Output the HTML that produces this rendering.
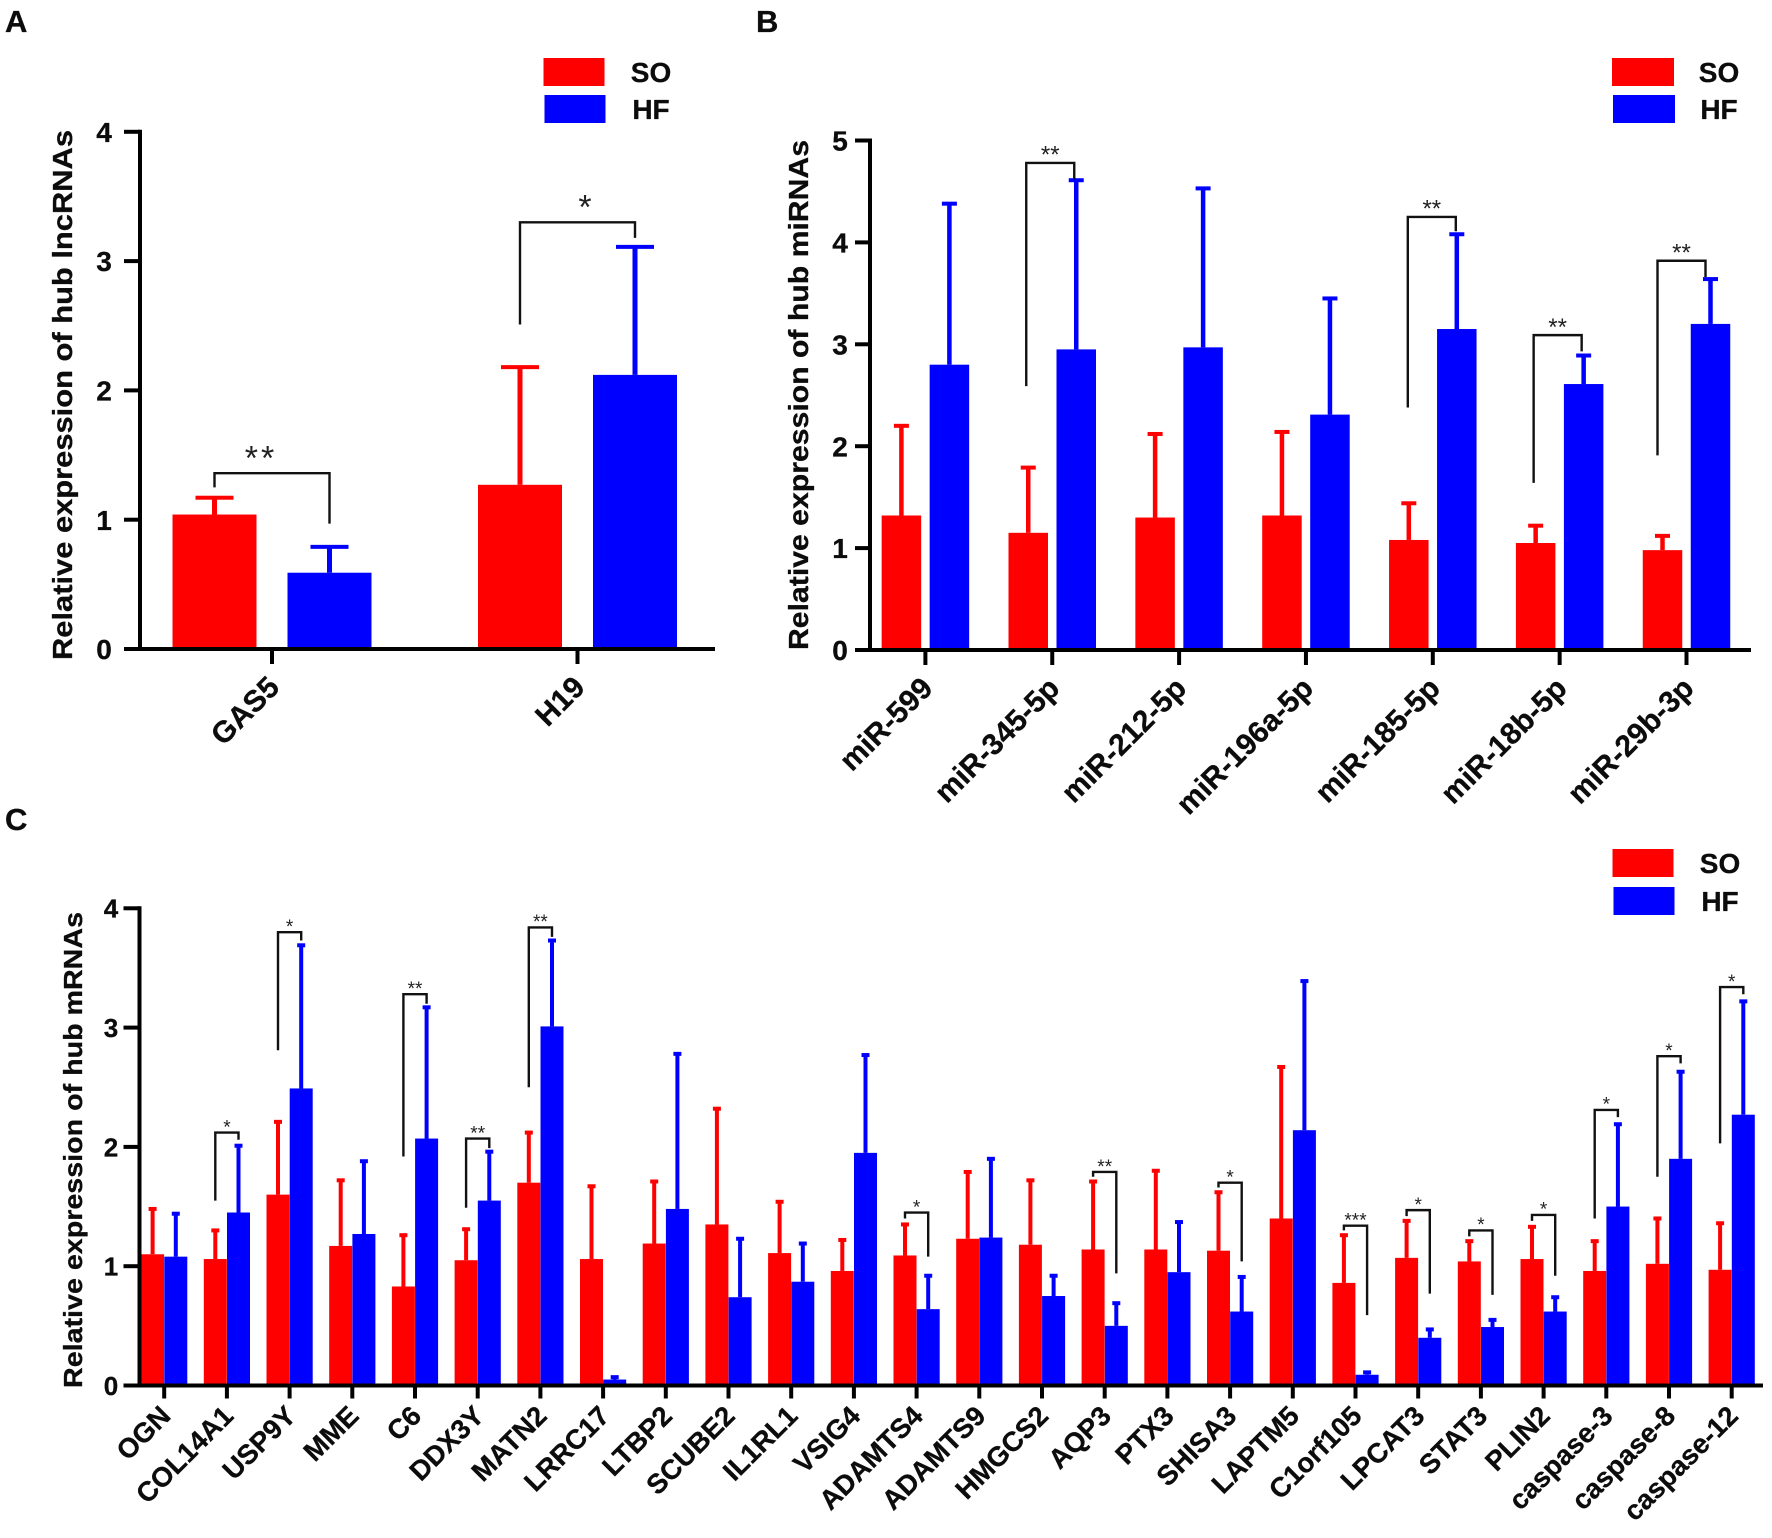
<!DOCTYPE html>
<html lang="en">
<head>
<meta charset="utf-8">
<title>Relative expression of hub lncRNAs, miRNAs and mRNAs</title>
<style>
html,body{margin:0;padding:0;background:#fff;}
svg{display:block;}
text{font-family:"Liberation Sans",Arial,sans-serif;fill:#0c0c0c;font-weight:bold;stroke:#0c0c0c;stroke-width:0.3px;}
.star{font-weight:normal;fill:#222;stroke:none;}
</style>
</head>
<body>
<svg id="figure" width="1772" height="1538" viewBox="0 0 1772 1538" xmlns="http://www.w3.org/2000/svg"></svg>
<script>
// ---------- Panel A data ----------
const aCategories = ["GAS5", "H19"];
const aSoMeans = [1.04, 1.27];
const aSoTops = [1.17, 2.18];
const aHfMeans = [0.59, 2.12];
const aHfTops = [0.79, 3.11];
const aTicks = [0, 1, 2, 3, 4];
// group index, stars, bracket top, left foot, right foot (all in axis units)
const aBrackets = [
  [0, "**", 1.36, 1.25, 0.97],
  [1, "*", 3.30, 2.51, 3.18]
];

// ---------- Panel B data ----------
const bCategories = ["miR-599", "miR-345-5p", "miR-212-5p", "miR-196a-5p", "miR-185-5p", "miR-18b-5p", "miR-29b-3p"];
const bSoMeans = [1.32, 1.15, 1.30, 1.32, 1.08, 1.05, 0.98];
const bSoTops = [2.20, 1.79, 2.12, 2.14, 1.44, 1.22, 1.12];
const bHfMeans = [2.80, 2.95, 2.97, 2.31, 3.15, 2.61, 3.20];
const bHfTops = [4.38, 4.61, 4.53, 3.45, 4.08, 2.89, 3.64];
const bTicks = [0, 1, 2, 3, 4, 5];
const bBrackets = [
  [1, "**", 4.78, 2.59, 4.62],
  [4, "**", 4.25, 2.38, 4.11],
  [5, "**", 3.09, 1.64, 2.93],
  [6, "**", 3.82, 1.91, 3.66]
];

// ---------- Panel C data ----------
const cCategories = ["OGN", "COL14A1", "USP9Y", "MME", "C6", "DDX3Y", "MATN2", "LRRC17", "LTBP2", "SCUBE2", "IL1RL1", "VSIG4", "ADAMTS4", "ADAMTS9", "HMGCS2", "AQP3", "PTX3", "SHISA3", "LAPTM5", "C1orf105", "LPCAT3", "STAT3", "PLIN2", "caspase-3", "caspase-8", "caspase-12"];
const cSoMeans = [1.10, 1.06, 1.60, 1.17, 0.83, 1.05, 1.70, 1.06, 1.19, 1.35, 1.11, 0.96, 1.09, 1.23, 1.18, 1.14, 1.14, 1.13, 1.40, 0.86, 1.07, 1.04, 1.06, 0.96, 1.02, 0.97];
const cSoTops = [1.48, 1.30, 2.21, 1.72, 1.26, 1.31, 2.12, 1.67, 1.71, 2.32, 1.54, 1.22, 1.35, 1.79, 1.72, 1.71, 1.80, 1.62, 2.67, 1.26, 1.38, 1.21, 1.33, 1.21, 1.40, 1.36];
const cHfMeans = [1.08, 1.45, 2.49, 1.27, 2.07, 1.55, 3.01, 0.05, 1.48, 0.74, 0.87, 1.95, 0.64, 1.24, 0.75, 0.50, 0.95, 0.62, 2.14, 0.09, 0.40, 0.49, 0.62, 1.50, 1.90, 2.27];
const cHfTops = [1.44, 2.01, 3.69, 1.88, 3.17, 1.96, 3.73, 0.07, 2.78, 1.23, 1.19, 2.77, 0.92, 1.90, 0.92, 0.69, 1.37, 0.91, 3.39, 0.11, 0.47, 0.55, 0.74, 2.19, 2.63, 3.22];
const cTicks = [0, 1, 2, 3, 4];
const cBrackets = [
  [1, "*", 2.12, 1.55, 2.06],
  [2, "*", 3.80, 2.81, 3.73],
  [4, "**", 3.28, 1.92, 3.20],
  [5, "**", 2.07, 1.49, 1.99],
  [6, "**", 3.84, 2.50, 3.76],
  [12, "*", 1.45, 1.40, 1.08],
  [15, "**", 1.79, 1.75, 0.94],
  [17, "*", 1.70, 1.66, 1.04],
  [19, "***", 1.34, 1.30, 0.59],
  [20, "*", 1.47, 1.42, 0.77],
  [21, "*", 1.30, 1.25, 0.76],
  [22, "*", 1.43, 1.38, 0.92],
  [23, "*", 2.31, 1.40, 2.25],
  [24, "*", 2.76, 1.75, 2.70],
  [25, "*", 3.34, 2.03, 3.28]
];

const NS = "http://www.w3.org/2000/svg";
const root = document.getElementById("figure");
const RED = "#ff0000";
const BLUE = "#0000ff";

function mk(parent, tag, attrs, txt) {
  const el = document.createElementNS(NS, tag);
  for (const k in attrs) el.setAttribute(k, attrs[k]);
  if (txt !== undefined) el.textContent = txt;
  parent.appendChild(el);
  return el;
}

function drawPanel(p) {
  const g = mk(root, "g", {});
  
  

  const y = v => p.y0 - v * p.unit;
  const tickX = i => p.x0 + i * p.step;
  const soX = i => tickX(i) - p.offset;
  const hfX = i => tickX(i) + p.offset;

  // bars and error bars
  p.categories.forEach((name, i) => {
    [[soX(i), p.soMeans[i], p.soTops[i], RED, 'so'], [hfX(i), p.hfMeans[i], p.hfTops[i], BLUE, 'hf']].forEach(s => {
      const cx = s[0], mean = s[1], top = s[2], color = s[3], key = s[4];
      const stem = mk(g, "rect", {x: cx - p.stem / 2, y: y(top), width: p.stem, height: y(mean) - y(top), fill: color});
      
      
      const cap = mk(g, "rect", {x: cx - p.cap / 2, y: y(top) - p.capH / 2, width: p.cap, height: p.capH, fill: color});
      
      
      const bar = mk(g, "rect", {x: cx - p.barW / 2, y: y(mean), width: p.barW, height: p.y0 - y(mean), fill: color});
      
      
    });
  });

  // axes
  const yAxis = mk(g, "line", {x1: p.axisX, x2: p.axisX, y1: y(p.ticks[p.ticks.length - 1]) - 2, y2: p.y0 + 2, stroke: "#000", "stroke-width": p.axisW});
  
  
  const xAxis = mk(g, "line", {x1: p.axisLeft, x2: p.axisRight, y1: p.y0, y2: p.y0, stroke: "#000", "stroke-width": p.axisW});
  
  

  p.ticks.forEach(t => {
    const tick = mk(g, "line", {x1: p.axisLeft, x2: p.axisX, y1: y(t), y2: y(t), stroke: "#000", "stroke-width": p.axisW});
    
    
    const lab = mk(g, "text", {x: p.yLabelX, y: y(t) + p.tickFs * 0.36, "text-anchor": "middle", "font-size": p.tickFs}, String(t));
    
    
  });

  p.categories.forEach((name, i) => {
    const tx = tickX(i);
    const tick = mk(g, "line", {x1: tx, x2: tx, y1: p.y0, y2: p.y0 + p.tickLen, stroke: "#000", "stroke-width": p.axisW});
    
    
    const lx = tx + p.labelDx, ly = p.y0 + p.labelDy;
    const lab = mk(g, "text", {x: lx, y: ly, "text-anchor": "end", "font-size": p.catFs, transform: "rotate(-45 " + lx + " " + ly + ")"}, name);
    
    
  });

  // significance brackets
  p.brackets.forEach((b, n) => {
    const i = b[0];
    const shift = p.bracketShift ? p.bracketShift[n] : 0;
    const xl = soX(i) + shift, xr = hfX(i) + shift;
    const path = mk(g, "polyline", {points: xl + "," + y(b[3]) + " " + xl + "," + y(b[2]) + " " + xr + "," + y(b[2]) + " " + xr + "," + y(b[4]), fill: "none", stroke: "#111", "stroke-width": p.brW});
    
    
    const starShift = p.starShift ? p.starShift[n] : 0;
    const star = mk(g, "text", {x: (xl + xr) / 2 + starShift, y: y(b[2]) - p.starGap + p.starFs * 0.57, "text-anchor": "middle", "font-size": p.starFs, "letter-spacing": p.starSp, "class": "star"}, b[1]);
    
    
  });

  // y title
  const tx = p.titleX, ty = p.titleMid;
  const title = mk(g, "text", {x: tx, y: ty, "text-anchor": "middle", "font-size": p.titleFs, transform: "rotate(-90 " + tx + " " + ty + ")", textLength: p.titleLen, lengthAdjust: "spacingAndGlyphs"}, p.title);
  
  

  // legend
  const so = mk(g, "rect", {x: p.legX, y: p.legY1, width: p.legW, height: p.legH, fill: RED});
  
  
  const hf = mk(g, "rect", {x: p.legX + 1, y: p.legY2, width: p.legW, height: p.legH, fill: BLUE});
  
  
  const soT = mk(g, "text", {x: p.legTextX, y: p.legY1 + p.legH / 2 + 10, "text-anchor": "middle", "font-size": 28}, "SO");
  
  
  const hfT = mk(g, "text", {x: p.legTextX, y: p.legY2 + p.legH / 2 + 10, "text-anchor": "middle", "font-size": 28}, "HF");
  
  

  // panel letter
  const letter = mk(g, "text", {x: p.letterX, y: p.letterY, "font-size": 31}, p.letter);
  
  
}

drawPanel({
  id: "panel-a", letter: "A", letterX: 5, letterY: 32,
  categories: aCategories, soMeans: aSoMeans, soTops: aSoTops, hfMeans: aHfMeans, hfTops: aHfTops, ticks: aTicks, brackets: aBrackets,
  y0: 649, unit: 129.3, x0: 272, step: 305.5, offset: 57.5, barW: 84, stem: 5, cap: 38, capH: 4,
  axisX: 140, axisLeft: 124, axisRight: 715, axisW: 4, tickLen: 15, tickFs: 28, yLabelX: 104, catFs: 30, labelDx: 9, labelDy: 40,
  title: "Relative expression of hub lncRNAs", titleX: 72, titleMid: 395, titleFs: 28, titleLen: 530,
  brW: 2.4, starFs: 34, starSp: 3, starGap: 23, starShift: [-11, 9],
  legX: 543.5, legY1: 58, legY2: 95, legW: 61, legH: 28, legTextX: 651
});

drawPanel({
  id: "panel-b", letter: "B", letterX: 756, letterY: 32,
  categories: bCategories, soMeans: bSoMeans, soTops: bSoTops, hfMeans: bHfMeans, hfTops: bHfTops, ticks: bTicks, brackets: bBrackets,
  y0: 650, unit: 101.9, x0: 925.4, step: 126.85, offset: 24, barW: 39.5, stem: 4.5, cap: 15, capH: 4,
  axisX: 870, axisLeft: 855, axisRight: 1751, axisW: 4, tickLen: 15, tickFs: 28, yLabelX: 840, catFs: 30, labelDx: 9, labelDy: 40,
  title: "Relative expression of hub miRNAs", titleX: 808, titleMid: 395, titleFs: 28, titleLen: 510,
  brW: 2.4, starFs: 24, starSp: 0, starGap: 14, bracketShift: [-2, -1, -2, -5], starShift: [0, 0, 0, 0],
  legX: 1612, legY1: 58, legY2: 95, legW: 62, legH: 28, legTextX: 1719
});

drawPanel({
  id: "panel-c", letter: "C", letterX: 5, letterY: 830,
  categories: cCategories, soMeans: cSoMeans, soTops: cSoTops, hfMeans: cHfMeans, hfTops: cHfTops, ticks: cTicks, brackets: cBrackets,
  y0: 1385.5, unit: 119.3, x0: 164.2, step: 62.7, offset: 11.6, barW: 23, stem: 4, cap: 8, capH: 4,
  axisX: 139.5, axisLeft: 123.5, axisRight: 1763, axisW: 4, tickLen: 13, tickFs: 26, yLabelX: 111, catFs: 27.5, labelDx: 8, labelDy: 32,
  title: "Relative expression of hub mRNAs", titleX: 82, titleMid: 1150, titleFs: 26, titleLen: 476,
  brW: 2.4, starFs: 19, starSp: 0, starGap: 10,
  legX: 1612.5, legY1: 849, legY2: 887, legW: 61, legH: 28, legTextX: 1720
});
</script>
</body>
</html>
